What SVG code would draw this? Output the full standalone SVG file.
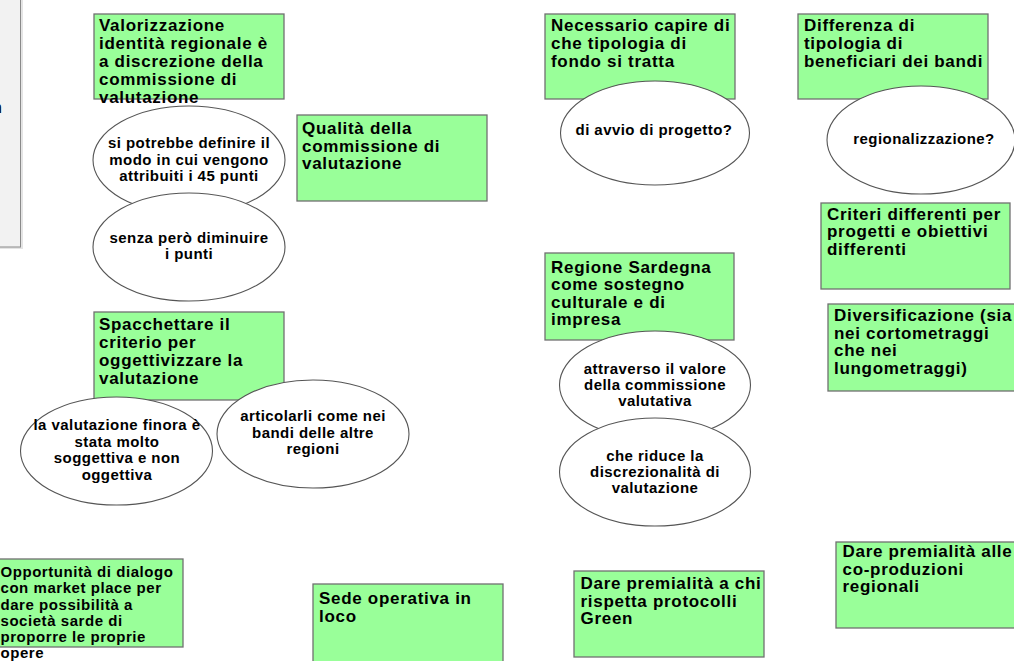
<svg xmlns="http://www.w3.org/2000/svg" width="1014" height="661" viewBox="0 0 1014 661">
<style>
  .box { fill: #99ff99; stroke: #707070; stroke-width: 1.3; }
  .ell { fill: #ffffff; stroke: #555555; stroke-width: 1.1; }
  .bt { font-family: "Liberation Sans", Arial, sans-serif; font-weight: bold; font-size: 17px; letter-spacing: 0.7px; fill: #000; }
  .st { font-family: "Liberation Sans", Arial, sans-serif; font-weight: bold; font-size: 15px; letter-spacing: 0.55px; fill: #000; }
  .et { font-family: "Liberation Sans", Arial, sans-serif; font-weight: bold; font-size: 15px; letter-spacing: 0.45px; fill: #000; text-anchor: middle; }
</style>
<rect width="1014" height="661" fill="#ffffff"/>
<g id="side-panel">
  <rect x="-2" y="-2" width="25" height="251" fill="#e4e4e4"/>
  <rect x="-2" y="-2" width="22.5" height="249" fill="#f2f2f2" stroke="#8a8a8a" stroke-width="1"/>
  <text x="-7" y="113" font-family="Liberation Sans, Arial, sans-serif" font-size="16" fill="#000">n</text>
</g>
<g id="connectors"/>
<g id="n-valorizzazione">
  <rect class="box" x="94" y="14" width="190" height="85"/>
  <text class="bt"><tspan x="99" y="30.5">Valorizzazione</tspan><tspan x="99" y="48.5">identità regionale è</tspan><tspan x="99" y="66.5">a discrezione della</tspan><tspan x="99" y="84.5">commissione di</tspan><tspan x="99" y="102.5">valutazione</tspan></text>
</g>
<g id="n-definire">
  <ellipse class="ell" cx="189" cy="160" rx="96" ry="54"/>
  <text class="et"><tspan x="189" y="148">si potrebbe definire il</tspan><tspan x="189" y="164.5">modo in cui vengono</tspan><tspan x="189" y="181">attribuiti i 45 punti</tspan></text>
</g>
<g id="n-senza">
  <ellipse class="ell" cx="189" cy="247" rx="96" ry="54"/>
  <text class="et"><tspan x="189" y="243">senza però diminuire</tspan><tspan x="189" y="259">i punti</tspan></text>
</g>
<g id="n-qualita">
  <rect class="box" x="297" y="115" width="190" height="86"/>
  <text class="bt"><tspan x="302" y="134">Qualità della</tspan><tspan x="302" y="151.5">commissione di</tspan><tspan x="302" y="169">valutazione</tspan></text>
</g>
<g id="n-spacchettare">
  <rect class="box" x="94" y="312" width="190" height="88"/>
  <text class="bt"><tspan x="99" y="329.5">Spacchettare il</tspan><tspan x="99" y="347.5">criterio per</tspan><tspan x="99" y="365.5">oggettivizzare la</tspan><tspan x="99" y="383.5">valutazione</tspan></text>
</g>
<g id="n-soggettiva">
  <ellipse class="ell" cx="116.5" cy="451" rx="96" ry="54"/>
  <text class="et"><tspan x="117" y="430">la valutazione finora è</tspan><tspan x="117" y="446.5">stata molto</tspan><tspan x="117" y="463">soggettiva e non</tspan><tspan x="117" y="479.5">oggettiva</tspan></text>
</g>
<g id="n-articolarli">
  <ellipse class="ell" cx="313" cy="434" rx="96" ry="54"/>
  <text class="et"><tspan x="313" y="421">articolarli come nei</tspan><tspan x="313" y="437.5">bandi delle altre</tspan><tspan x="313" y="454">regioni</tspan></text>
</g>
<g id="n-opportunita">
  <rect class="box" x="-6" y="559" width="189" height="88"/>
  <text class="st"><tspan x="0.5" y="576.5">Opportunità di dialogo</tspan><tspan x="0.5" y="593">con market place per</tspan><tspan x="0.5" y="609.5">dare possibilità a</tspan><tspan x="0.5" y="626">società sarde di</tspan><tspan x="0.5" y="642">proporre le proprie</tspan><tspan x="0.5" y="658">opere</tspan></text>
</g>
<g id="n-sede">
  <rect class="box" x="313" y="584" width="190" height="90"/>
  <text class="bt"><tspan x="319" y="604">Sede operativa in</tspan><tspan x="319" y="621.5">loco</tspan></text>
</g>
<g id="n-necessario">
  <rect class="box" x="545" y="14" width="190" height="85"/>
  <text class="bt"><tspan x="551" y="30.5">Necessario capire di</tspan><tspan x="551" y="48.5">che tipologia di</tspan><tspan x="551" y="66.5">fondo si tratta</tspan></text>
</g>
<g id="n-avvio">
  <ellipse class="ell" cx="655" cy="133" rx="94.5" ry="52"/>
  <text class="et"><tspan x="654" y="135">di avvio di progetto?</tspan></text>
</g>
<g id="n-differenza">
  <rect class="box" x="798" y="14" width="190" height="85"/>
  <text class="bt"><tspan x="804" y="30.5">Differenza di</tspan><tspan x="804" y="48.5">tipologia di</tspan><tspan x="804" y="66.5">beneficiari dei bandi</tspan></text>
</g>
<g id="n-regionalizzazione">
  <ellipse class="ell" cx="921" cy="140" rx="94" ry="54"/>
  <text class="et"><tspan x="924" y="144">regionalizzazione?</tspan></text>
</g>
<g id="n-sardegna">
  <rect class="box" x="545" y="253" width="189" height="87"/>
  <text class="bt"><tspan x="551" y="272.5">Regione Sardegna</tspan><tspan x="551" y="290">come sostegno</tspan><tspan x="551" y="307.5">culturale e di</tspan><tspan x="551" y="325">impresa</tspan></text>
</g>
<g id="n-attraverso">
  <ellipse class="ell" cx="655" cy="385" rx="95.5" ry="54"/>
  <text class="et"><tspan x="655" y="374">attraverso il valore</tspan><tspan x="655" y="390">della commissione</tspan><tspan x="655" y="406">valutativa</tspan></text>
</g>
<g id="n-riduce">
  <ellipse class="ell" cx="655" cy="472" rx="95.5" ry="54"/>
  <text class="et"><tspan x="655" y="461">che riduce la</tspan><tspan x="655" y="477">discrezionalità di</tspan><tspan x="655" y="493">valutazione</tspan></text>
</g>
<g id="n-criteri">
  <rect class="box" x="821" y="203" width="189" height="86"/>
  <text class="bt"><tspan x="827" y="219.5">Criteri differenti per</tspan><tspan x="827" y="237">progetti e obiettivi</tspan><tspan x="827" y="254.5">differenti</tspan></text>
</g>
<g id="n-diversificazione">
  <rect class="box" x="828" y="304" width="190" height="87"/>
  <text class="bt"><tspan x="834" y="321">Diversificazione (sia</tspan><tspan x="834" y="338.5">nei cortometraggi</tspan><tspan x="834" y="356">che nei</tspan><tspan x="834" y="373.5">lungometraggi)</tspan></text>
</g>
<g id="n-green">
  <rect class="box" x="574" y="571" width="190" height="86"/>
  <text class="bt"><tspan x="580.5" y="589">Dare premialità a chi</tspan><tspan x="580.5" y="606.5">rispetta protocolli</tspan><tspan x="580.5" y="624">Green</tspan></text>
</g>
<g id="n-coproduzioni">
  <rect class="box" x="836" y="542" width="190" height="86"/>
  <text class="bt"><tspan x="842.5" y="557">Dare premialità alle</tspan><tspan x="842.5" y="574.5">co-produzioni</tspan><tspan x="842.5" y="592">regionali</tspan></text>
</g>
</svg>
